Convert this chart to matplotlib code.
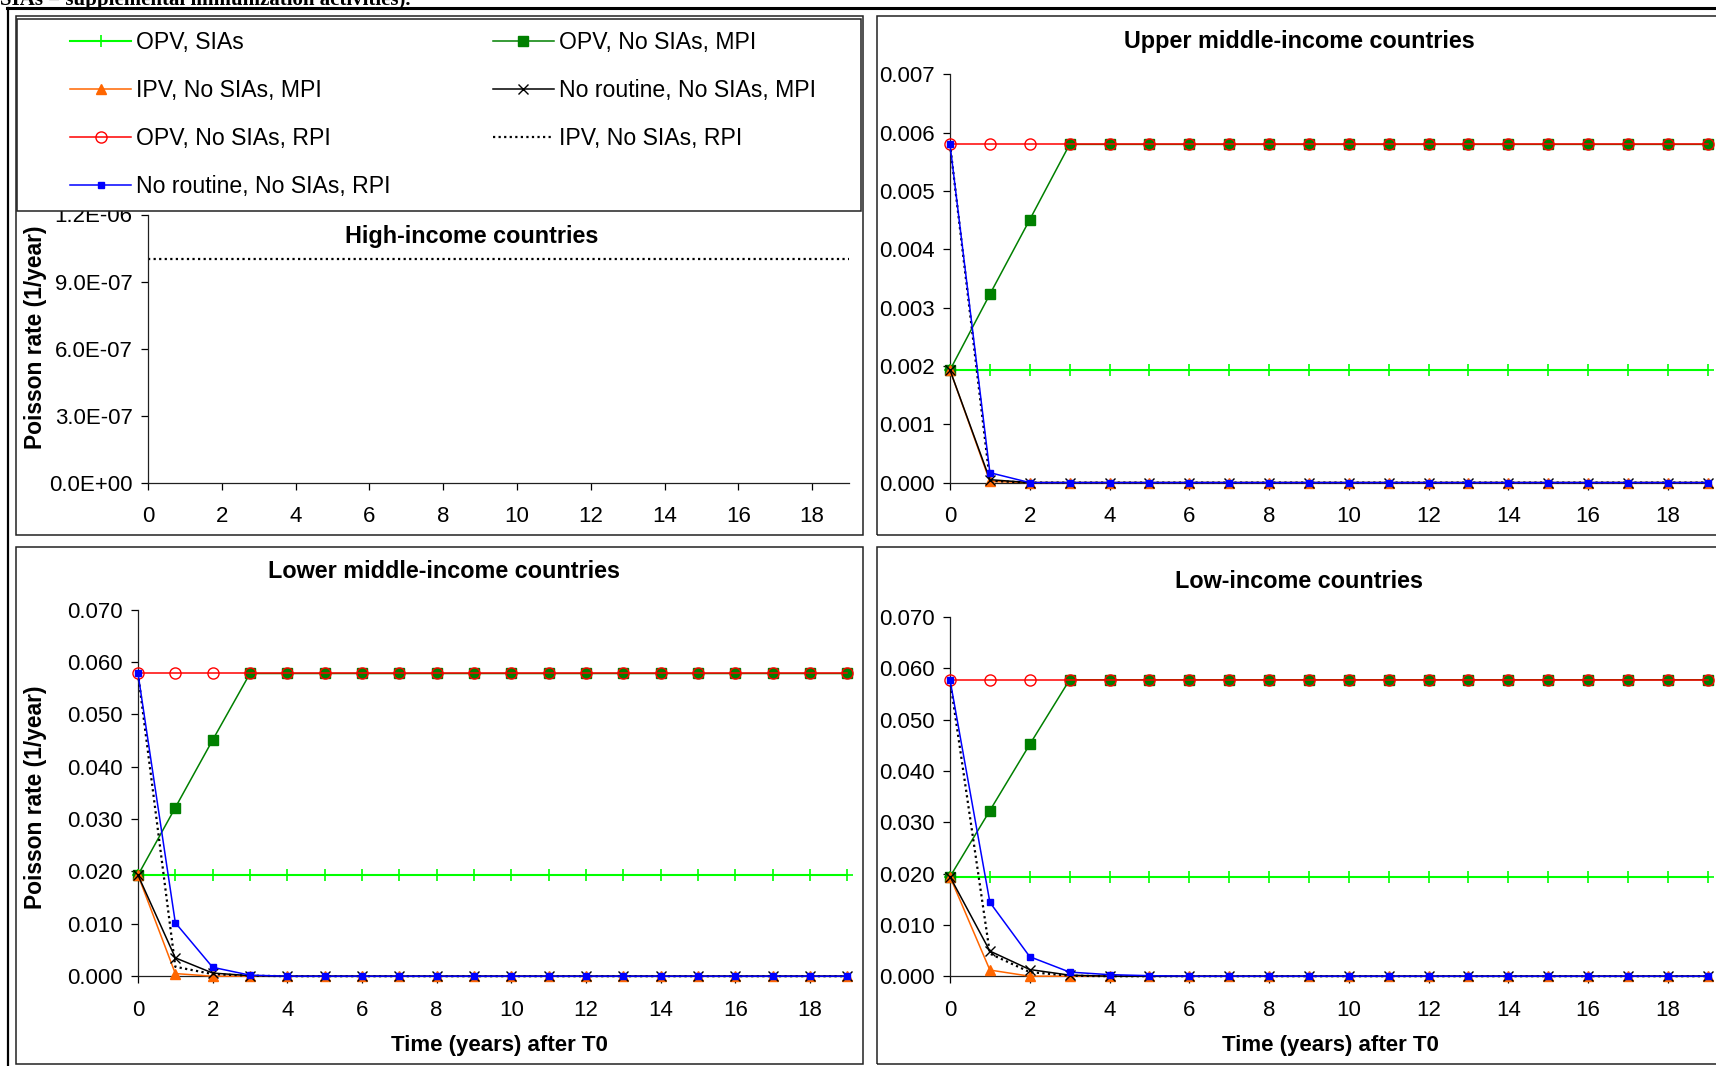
import matplotlib.pyplot as plt
from matplotlib.patches import Rectangle
from matplotlib.lines import Line2D
from matplotlib.ticker import FormatStrFormatter, FuncFormatter

plt.rcParams['font.family'] = ['Liberation Sans', 'DejaVu Sans']

W, H = 1716, 1066
years = list(range(20))

series_names = ['OPV, SIAs', 'OPV, No SIAs, MPI', 'IPV, No SIAs, MPI',
                'No routine, No SIAs, MPI', 'OPV, No SIAs, RPI',
                'IPV, No SIAs, RPI', 'No routine, No SIAs, RPI']

# high-income: only the IPV/RPI scenario is on the chart
hi_ipv_rpi = [1.0e-06] * 20

# upper middle-income
umi_opv_sias = [0.00193] * 20
umi_opv_mpi = [0.00193, 0.00323, 0.00451] + [0.0058] * 17
umi_ipv_mpi = [0.00193, 0.00002] + [0.0] * 18
umi_nor_mpi = [0.00193, 0.00005] + [0.0] * 18
umi_opv_rpi = [0.0058] * 20
umi_ipv_rpi = [0.0058, 0.00003] + [0.0] * 18
umi_nor_rpi = [0.0058, 0.00017] + [0.0] * 18

# lower middle-income
lmi_opv_sias = [0.0193] * 20
lmi_opv_mpi = [0.0193, 0.0322, 0.0451] + [0.0578] * 17
lmi_ipv_mpi = [0.0193, 0.0005] + [0.0] * 18
lmi_nor_mpi = [0.0193, 0.0035, 0.0006, 0.0001] + [0.0] * 16
lmi_opv_rpi = [0.0578] * 20
lmi_ipv_rpi = [0.0578, 0.0018, 0.0004, 0.0001] + [0.0] * 16
lmi_nor_rpi = [0.0578, 0.0102, 0.0017, 0.0002] + [0.0] * 16

# low-income
li_opv_sias = [0.0194] * 20
li_opv_mpi = [0.0194, 0.0323, 0.0452] + [0.0578] * 17
li_ipv_mpi = [0.0194, 0.0012] + [0.0] * 18
li_nor_mpi = [0.0194, 0.0049, 0.0013, 0.0002] + [0.0] * 16
li_opv_rpi = [0.0578] * 20
li_ipv_rpi = [0.0578, 0.0044, 0.0008, 0.0001] + [0.0] * 16
li_nor_rpi = [0.0578, 0.0144, 0.0038, 0.0008, 0.0003, 0.0001] + [0.0] * 14

styles = {
    'OPV, SIAs': dict(color='#00FF00', marker='+', ms=9, mew=1.2, lw=1.5),
    'OPV, No SIAs, MPI': dict(color='#008000', marker='s', ms=7, lw=1.1),
    'IPV, No SIAs, MPI': dict(color='#FF6600', marker='^', ms=7, lw=1.1),
    'No routine, No SIAs, MPI': dict(color='black', marker='x', ms=7, mew=1.0, lw=1.1),
    'OPV, No SIAs, RPI': dict(color='red', marker='o', ms=8, mfc='none', lw=1.1),
    'IPV, No SIAs, RPI': dict(color='black', ls=(0, (1, 1.5)), lw=1.6),
    'No routine, No SIAs, RPI': dict(color='blue', marker='s', ms=4, lw=1.1),
}

FS = 16
TFS = 16.8


def fbox(x0, y0, x1, y1):
    return [x0 / W, 1 - y1 / H, (x1 - x0) / W, (y1 - y0) / H]


def fx(x):
    return x / W


def fy(y):
    return 1 - y / H


fig = plt.figure(figsize=(W / 100, H / 100), dpi=100)

ax_hi = fig.add_axes(fbox(148, 214.5, 849, 482.6))
ax_umi = fig.add_axes(fbox(950, 74.4, 1707.8, 482.6))
ax_lmi = fig.add_axes(fbox(138, 609.6, 847.2, 976.2))
ax_li = fig.add_axes(fbox(950, 617.2, 1707.8, 976.2))

ax_hi.plot(years, hi_ipv_rpi, clip_on=False, **styles['IPV, No SIAs, RPI'])

panel_data = [
    (ax_umi, [umi_opv_sias, umi_opv_mpi, umi_ipv_mpi, umi_nor_mpi, umi_opv_rpi, umi_ipv_rpi, umi_nor_rpi]),
    (ax_lmi, [lmi_opv_sias, lmi_opv_mpi, lmi_ipv_mpi, lmi_nor_mpi, lmi_opv_rpi, lmi_ipv_rpi, lmi_nor_rpi]),
    (ax_li, [li_opv_sias, li_opv_mpi, li_ipv_mpi, li_nor_mpi, li_opv_rpi, li_ipv_rpi, li_nor_rpi]),
]
handles = {}
for ax, vals in panel_data:
    for k, (name, v) in enumerate(zip(series_names, vals)):
        ln, = ax.plot(years, v, clip_on=False, zorder=3 + k, label=name, **styles[name])
        handles[name] = ln

for ax in [ax_hi, ax_umi, ax_lmi, ax_li]:
    ax.set_xlim(0, 19)
    ax.set_xticks(range(0, 19, 2))
    for s in ['top', 'right']:
        ax.spines[s].set_visible(False)
    for s in ['left', 'bottom']:
        ax.spines[s].set_linewidth(0.9)
        ax.spines[s].set_color('#202020')
    ax.tick_params(direction='out', length=5, width=0.9, labelsize=FS, pad=6)
    ax.tick_params(axis='x', pad=12)
    ax.set_facecolor('none')

ax_hi.set_ylim(0, 1.2e-06)
ax_hi.set_yticks([0, 3e-07, 6e-07, 9e-07, 1.2e-06])
ax_hi.yaxis.set_major_formatter(FuncFormatter(lambda v, p: '{:.1E}'.format(v)))

ax_umi.set_ylim(0, 0.007)
ax_umi.set_yticks([0.000, 0.001, 0.002, 0.003, 0.004, 0.005, 0.006, 0.007])
ax_umi.yaxis.set_major_formatter(FormatStrFormatter('%.3f'))

for ax in [ax_lmi, ax_li]:
    ax.set_ylim(0, 0.07)
    ax.set_yticks([0.00, 0.01, 0.02, 0.03, 0.04, 0.05, 0.06, 0.07])
    ax.yaxis.set_major_formatter(FormatStrFormatter('%.3f'))

# panel titles and axis labels
fig.text(fx(472), fy(236), 'High-income countries', ha='center', va='center', fontsize=TFS, fontweight='bold')
fig.text(fx(1299), fy(41.5), 'Upper middle-income countries', ha='center', va='center', fontsize=TFS, fontweight='bold')
fig.text(fx(444), fy(572), 'Lower middle-income countries', ha='center', va='center', fontsize=TFS, fontweight='bold')
fig.text(fx(1299), fy(582), 'Low-income countries', ha='center', va='center', fontsize=TFS, fontweight='bold')
fig.text(fx(36), fy(337), 'Poisson rate (1/year)', ha='center', va='center', rotation=90, fontsize=16.4, fontweight='bold')
fig.text(fx(36), fy(797), 'Poisson rate (1/year)', ha='center', va='center', rotation=90, fontsize=16.4, fontweight='bold')
fig.text(fx(499), fy(1045), 'Time (years) after T0', ha='center', va='center', fontsize=FS, fontweight='bold')
fig.text(fx(1330), fy(1045), 'Time (years) after T0', ha='center', va='center', fontsize=FS, fontweight='bold')

# caption line cut off at the top
fig.text(0.0, fy(5), 'SIAs = supplemental immunization activities).', ha='left', va='baseline',
         fontsize=15, fontweight='bold', family='Liberation Serif')

# frames
for x0, y0, x1, y1 in [(16, 16, 863, 535), (877, 16, 1722, 535), (16, 547, 863, 1064), (877, 547, 1722, 1064)]:
    fig.add_artist(Rectangle((fx(x0), fy(y1)), (x1 - x0) / W, (y1 - y0) / H, transform=fig.transFigure,
                             fill=False, lw=1.1, ec='#222222', clip_on=False))
fig.add_artist(Line2D([fx(7), 1], [fy(7.5), fy(7.5)], lw=2.2, color='black'))
fig.add_artist(Line2D([fx(8), fx(8)], [fy(7.5), 0], lw=1.6, color='black'))

# legend box
fig.add_artist(Rectangle((fx(17), fy(211)), (861 - 17) / W, (211 - 19) / H, transform=fig.transFigure,
                         fill=True, fc='white', lw=1.1, ec='#222222', zorder=5))
order = ['OPV, SIAs', 'IPV, No SIAs, MPI', 'OPV, No SIAs, RPI', 'No routine, No SIAs, RPI',
         'OPV, No SIAs, MPI', 'No routine, No SIAs, MPI', 'IPV, No SIAs, RPI']
leg = fig.legend([handles[n] for n in order], order, ncol=2, loc='upper left',
                 bbox_to_anchor=(fx(70), fy(31)), frameon=False, fontsize=16.6,
                 borderpad=0, borderaxespad=0, handlelength=2.65, handletextpad=0.2,
                 columnspacing=4.45, labelspacing=1.08, numpoints=1)
leg.set_zorder(6)

fig.savefig('out.png', dpi=100)
